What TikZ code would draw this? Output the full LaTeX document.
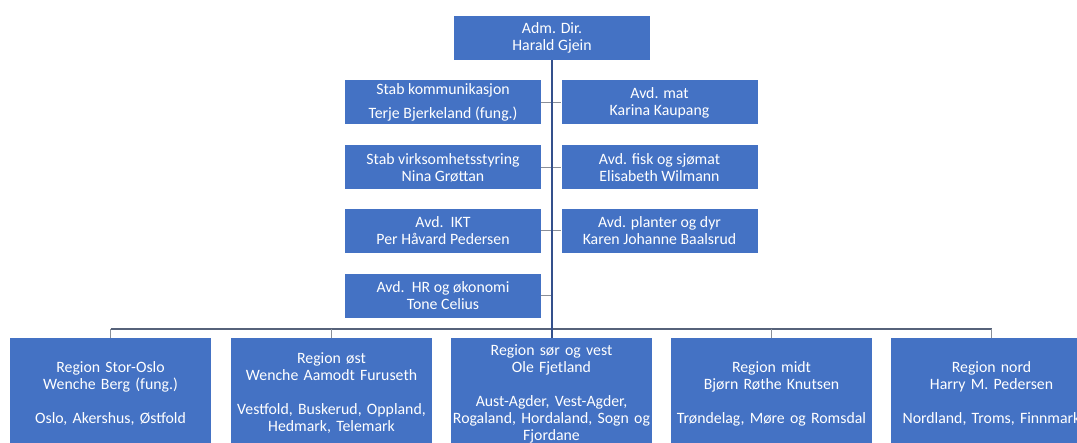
\documentclass[tikz,border=0pt]{standalone}
\usepackage{fontspec}
\setmainfont{Carlito}
\definecolor{boxblue}{HTML}{4472C4}
\definecolor{mainline}{HTML}{34508C}
\definecolor{busgray}{HTML}{56627A}
\definecolor{stubgray}{HTML}{8A8F98}
\tikzset{
  orgbox/.style={rectangle, fill=boxblue, text=white, align=center, inner sep=0pt,
    font=\fontsize{15.8}{17}\selectfont},
  topbox/.style={orgbox, minimum width=196pt, minimum height=44pt},
  colbox/.style={orgbox, minimum width=196pt, minimum height=44pt},
  regbox/.style={orgbox, minimum width=201pt, minimum height=110pt, text width=200pt},
  mainln/.style={draw=mainline, line width=1.5pt},
  busln/.style={draw=busgray, line width=1.2pt},
  stubln/.style={draw=stubgray, line width=1pt},
}
\begin{document}
\begin{tikzpicture}[x=1pt,y=-1pt]
\useasboundingbox (0,0) rectangle (1077,443);
\clip (0,0) rectangle (1077,443);
\fill[white] (0,0) rectangle (1077,443);

\node[topbox] (top) at (552,38) {Adm. Dir.\\Harald Gjein};

\node[colbox] (l1) at (443,102.5) {Stab kommunikasjon\\[7pt]Terje Bjerkeland (fung.)};
\node[colbox] (l2) at (443,167.5) {Stab virksomhetsstyring\\Nina Grøttan};
\node[colbox] (l3) at (443,231) {Avd.\ \ IKT\\Per Håvard Pedersen};
\node[colbox] (l4) at (443,296) {Avd.\ \ HR og økonomi\\Tone Celius};

\node[colbox] (r1) at (659.5,102.5) {Avd. mat\\Karina Kaupang};
\node[colbox] (r2) at (659.5,167.5) {Avd. fisk og sjømat\\Elisabeth Wilmann};
\node[colbox] (r3) at (659.5,231) {Avd. planter og dyr\\Karen Johanne Baalsrud};

\node[regbox] (b1) at (110.5,393.5) {Region Stor-Oslo\\Wenche Berg (fung.)\\[17pt]Oslo, Akershus, Østfold};
\node[regbox] (b2) at (331.5,393.5) {Region øst\\Wenche Aamodt Furuseth\\[17pt]Vestfold, Buskerud, Oppland,\\Hedmark, Telemark};
\node[regbox] (b3) at (551.5,393.5) {Region sør og vest\\Ole Fjetland\\[17pt]Aust-Agder, Vest-Agder,\\Rogaland, Hordaland, Sogn og\\Fjordane};
\node[regbox] (b4) at (771.5,393.5) {Region midt\\Bjørn Røthe Knutsen\\[17pt]Trøndelag, Møre og Romsdal};
\node[regbox] (b5) at (991.5,393.5) {Region nord\\Harry M. Pedersen\\[17pt]Nordland, Troms, Finnmark};

\coordinate (bus) at (552,329);

\draw[stubln] (l1.east) -- (r1.west);
\draw[stubln] (l2.east) -- (r2.west);
\draw[stubln] (l3.east) -- (r3.west);
\draw[stubln] (l4.east) -- (l4.east -| top.south);

\draw[busln] (b1.north |- bus) -- (b5.north |- bus);
\foreach \b in {b1,b2,b4,b5} {
  \draw[stubln] (\b.north) -- (\b.north |- bus);
}
\draw[mainln] (top.south) -- (top.south |- b3.north);
\end{tikzpicture}
\end{document}
